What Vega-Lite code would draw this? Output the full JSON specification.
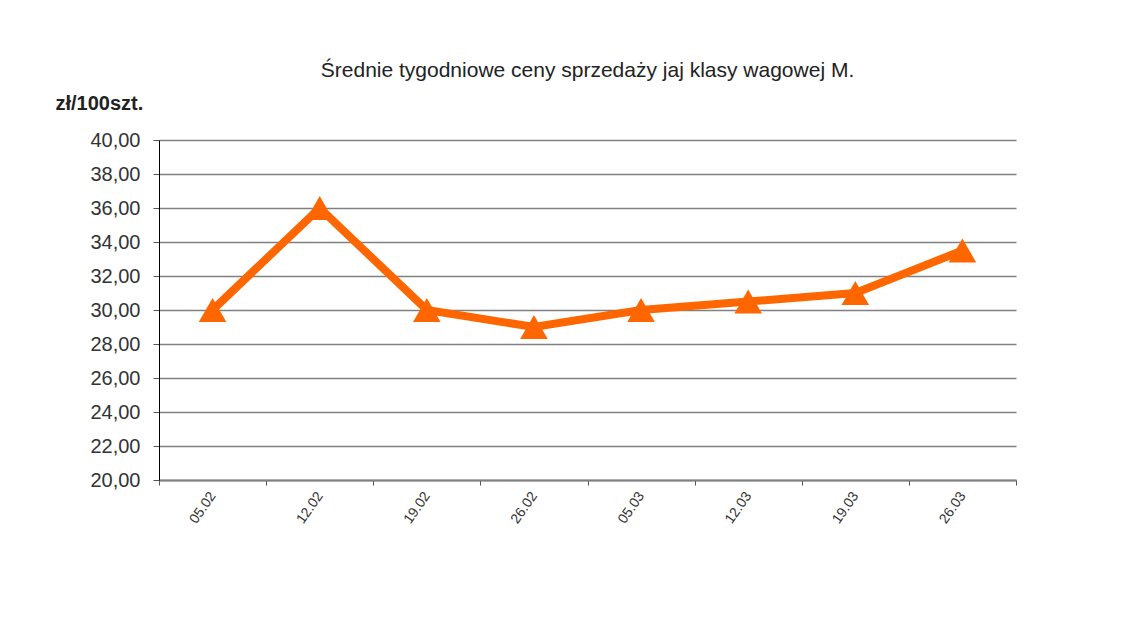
{
  "$schema": "https://vega.github.io/schema/vega-lite/v6.json",
  "autosize": "none",
  "width": 857,
  "height": 340,
  "padding": {"left": 159, "top": 140, "right": 129, "bottom": 137},
  "background": "white",
  "config": {
    "font": "Liberation Sans",
    "view": {"stroke": null}
  },
  "title": {
    "text": "Średnie tygodniowe ceny sprzedaży jaj klasy wagowej M.",
    "fontSize": 21,
    "fontWeight": "normal",
    "color": "#222222",
    "anchor": "middle",
    "baseline": "bottom",
    "offset": -9
  },
  "data": {
    "values": [
      {"tydzien": "05.02", "cena": 30.0},
      {"tydzien": "12.02", "cena": 36.0},
      {"tydzien": "19.02", "cena": 30.0},
      {"tydzien": "26.02", "cena": 29.0},
      {"tydzien": "05.03", "cena": 30.0},
      {"tydzien": "12.03", "cena": 30.5},
      {"tydzien": "19.03", "cena": 31.0},
      {"tydzien": "26.03", "cena": 33.5}
    ]
  },
  "encoding": {
    "x": {
      "field": "tydzien",
      "type": "ordinal",
      "sort": null,
      "scale": {"paddingInner": 0, "paddingOuter": 0},
      "axis": {
        "title": null,
        "labelAngle": -55,
        "labelFontSize": 14,
        "labelColor": "#333333",
        "labelPadding": 8,
        "tickBand": "extent",
        "tickColor": "#555555",
        "tickSize": 5,
        "domainColor": "#808080",
        "domainWidth": 2,
        "grid": false
      }
    },
    "y": {
      "field": "cena",
      "type": "quantitative",
      "scale": {"domain": [20, 40], "nice": false, "zero": false},
      "axis": {
        "title": "zł/100szt.",
        "titleAngle": 0,
        "titleAlign": "left",
        "titleBaseline": "middle",
        "titleX": -104,
        "titleY": -37,
        "titleFontSize": 20,
        "titleFontWeight": "bold",
        "titleColor": "#222222",
        "values": [20, 22, 24, 26, 28, 30, 32, 34, 36, 38, 40],
        "labelExpr": "replace(format(datum.value, '.2f'), '.', ',')",
        "labelFontSize": 20,
        "labelColor": "#333333",
        "labelPadding": 13,
        "tickSize": 6,
        "tickColor": "#555555",
        "domainColor": "#000000",
        "domainWidth": 1,
        "grid": true,
        "gridColor": "#808080",
        "gridWidth": 1.5
      }
    }
  },
  "layer": [
    {
      "mark": {"type": "line", "color": "#FF6600", "strokeWidth": 8, "strokeJoin": "miter"}
    },
    {
      "mark": {"type": "point", "shape": "triangle-up", "filled": true, "size": 760, "color": "#FF6600", "opacity": 1}
    }
  ]
}
